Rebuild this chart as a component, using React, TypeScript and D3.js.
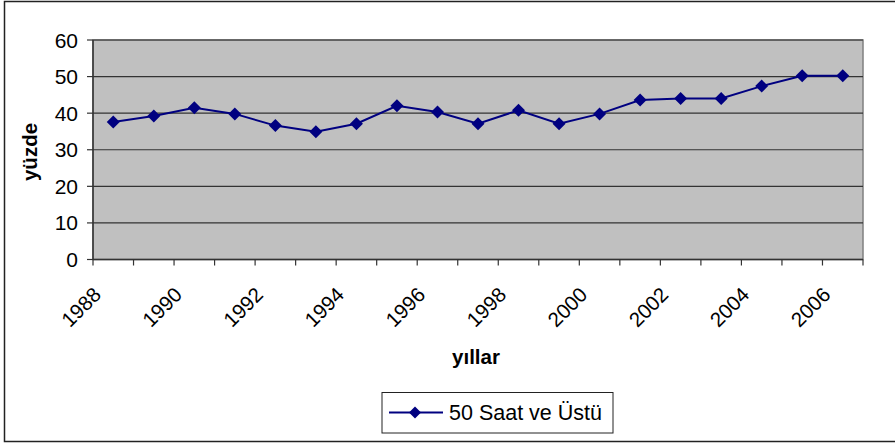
import React from "react";
import * as d3 from "d3";

// yıllar (x categories)
const years = [
  "1988", "1989", "1990", "1991", "1992", "1993", "1994", "1995", "1996", "1997",
  "1998", "1999", "2000", "2001", "2002", "2003", "2004", "2005", "2006",
];
// 50 Saat ve Üstü, yüzde
const values = [
  37.6, 39.2, 41.5, 39.8, 36.6, 34.9, 37.1, 42.0, 40.3, 37.1,
  40.8, 37.1, 39.8, 43.6, 44.0, 44.0, 47.4, 50.2, 50.2,
];
const yTicks = [0, 10, 20, 30, 40, 50, 60];
const seriesName = "50 Saat ve Üstü";

const width = 895;
const height = 443;
const plot = { left: 93, right: 863, top: 40, bottom: 259.5 };
const font = "'Liberation Sans', Arial, sans-serif";
const navy = "#000080";

const diamond = (cx: number, cy: number, r: number) =>
  `M${cx},${cy - r}L${cx + r},${cy}L${cx},${cy + r}L${cx - r},${cy}Z`;

export default function App() {
  const x = d3.scaleBand().domain(years).range([plot.left, plot.right]).padding(0);
  const y = d3.scaleLinear().domain([0, 60]).range([plot.bottom, plot.top]);
  const cx = (d: string) => (x(d) as number) + x.bandwidth() / 2;

  const line = d3
    .line<number>()
    .x((_, i) => cx(years[i]))
    .y((d) => y(d));

  const boundaries = years.map((d) => x(d) as number).concat([plot.right]);

  return (
    <svg
      width={width}
      height={height}
      style={{ position: "absolute", left: 0, top: 0, background: "#fff" }}
      fontFamily={font}
    >
      {/* outer chart border */}
      <rect x={4.5} y={1.5} width={900} height={440} fill="none" stroke="#222" strokeWidth={1.5} />

      {/* plot area */}
      <rect
        x={plot.left}
        y={plot.top}
        width={plot.right - plot.left}
        height={plot.bottom - plot.top}
        fill="#C0C0C0"
        stroke="#808080"
        strokeWidth={1.5}
      />

      {/* gridlines */}
      {yTicks.slice(1).map((t) => (
        <line key={t} x1={plot.left} x2={plot.right} y1={y(t)} y2={y(t)} stroke="#333" strokeWidth={1.2} />
      ))}

      {/* y axis */}
      <line x1={plot.left} x2={plot.left} y1={plot.top} y2={plot.bottom} stroke="#333" strokeWidth={1.5} />
      {yTicks.map((t) => (
        <g key={t}>
          <line x1={plot.left - 6} x2={plot.left} y1={y(t)} y2={y(t)} stroke="#333" strokeWidth={1.2} />
          <text x={78} y={y(t) + 7.5} textAnchor="end" fontSize={21} fill="#000">
            {t}
          </text>
        </g>
      ))}

      {/* x axis */}
      <line x1={plot.left} x2={plot.right} y1={plot.bottom} y2={plot.bottom} stroke="#333" strokeWidth={1.5} />
      {boundaries.map((b, i) => (
        <line key={i} x1={b} x2={b} y1={plot.bottom} y2={plot.bottom + 6} stroke="#333" strokeWidth={1.2} />
      ))}
      {years
        .filter((_, i) => i % 2 === 0)
        .map((d) => {
          const ax = cx(d) - 11;
          const ay = 296;
          return (
            <text
              key={d}
              x={ax}
              y={ay}
              textAnchor="end"
              fontSize={20.5}
              fill="#000"
              transform={`rotate(-45 ${ax} ${ay})`}
            >
              {d}
            </text>
          );
        })}

      {/* axis titles */}
      <text x={476} y={364} textAnchor="middle" fontSize={20.5} fontWeight="bold" fill="#000">
        yıllar
      </text>
      <text
        x={0}
        y={0}
        textAnchor="middle"
        fontSize={20.5}
        fontWeight="bold"
        fill="#000"
        transform={`translate(37, 152) rotate(-90)`}
      >
        yüzde
      </text>

      {/* series */}
      <path d={line(values) || ""} fill="none" stroke={navy} strokeWidth={2} />
      {values.map((v, i) => (
        <path key={i} d={diamond(cx(years[i]), y(v), 6.5)} fill={navy} />
      ))}

      {/* legend */}
      <rect x={382} y={392.5} width={231} height={40.5} fill="#fff" stroke="#222" strokeWidth={1} />
      <line x1={389} x2={443} y1={412.5} y2={412.5} stroke={navy} strokeWidth={2} />
      <path d={diamond(415, 412.5, 6)} fill={navy} />
      <text x={449} y={420} fontSize={21.5} fill="#000">
        {seriesName}
      </text>
    </svg>
  );
}
